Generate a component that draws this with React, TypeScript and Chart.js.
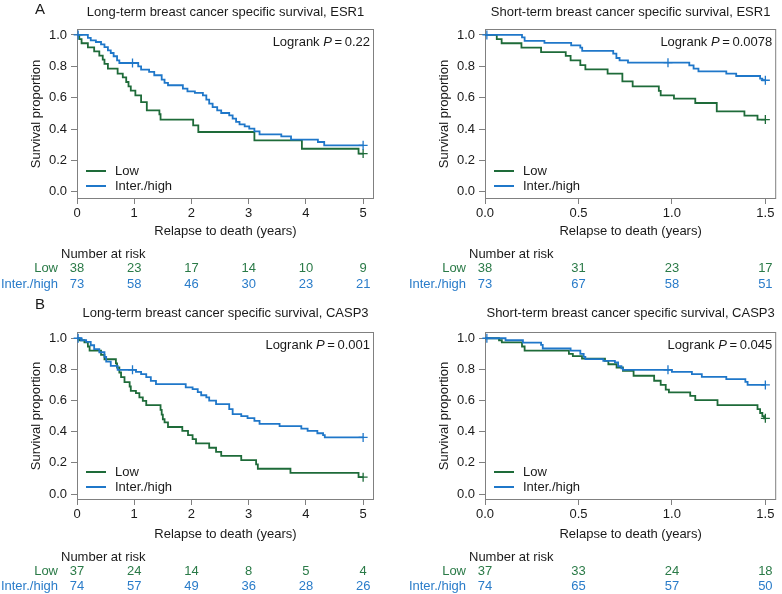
import React, { useEffect, useRef } from 'react';
import { Chart, registerables } from 'chart.js';

Chart.register(...registerables);

const FONT = '"Liberation Sans", Arial, Helvetica, sans-serif';
const GREEN = '#1e6b39';
const GREEN_TXT = '#2a7a47';
const BLUE = '#1f77c9';
const BLUE_TXT = '#2a7cc9';
const FRAME = '#808080';
const TXT = '#1a1a1a';

const groupLabels = ['Low', 'Inter./high'];
const yTickValues = [0, 0.2, 0.4, 0.6, 0.8, 1.0];
const yTickLabels = ['0.0', '0.2', '0.4', '0.6', '0.8', '1.0'];
const xTicksLong = [0, 1, 2, 3, 4, 5];
const xTickLabelsLong = ['0', '1', '2', '3', '4', '5'];
const xTicksShort = [0, 0.5, 1.0, 1.5];
const xTickLabelsShort = ['0.0', '0.5', '1.0', '1.5'];

// ---------- ESR1, long-term ----------
const esrLongLowT = [0, 0.04, 0.08, 0.19, 0.30, 0.39, 0.45, 0.48, 0.54, 0.71, 0.80, 0.86, 0.90, 0.94, 1.02, 1.12, 1.22, 1.44, 1.46, 2.03, 2.12, 3.10, 3.93, 4.92, 5.0];
const esrLongLowS = [1, 0.974, 0.947, 0.921, 0.895, 0.868, 0.842, 0.816, 0.785, 0.753, 0.730, 0.700, 0.672, 0.645, 0.615, 0.572, 0.519, 0.494, 0.460, 0.423, 0.381, 0.328, 0.274, 0.243, 0.243];
const esrLongLowCensT = [5.0];
const esrLongLowCensS = [0.243];
const esrLongHiT = [0, 0.19, 0.24, 0.33, 0.42, 0.48, 0.54, 0.59, 0.64, 0.70, 0.74, 1.07, 1.12, 1.26, 1.35, 1.48, 1.53, 1.59, 1.85, 1.93, 2.06, 2.20, 2.26, 2.31, 2.37, 2.45, 2.52, 2.66, 2.72, 2.78, 2.84, 2.93, 3.01, 3.10, 3.19, 3.57, 3.74, 4.21, 4.32, 5.0];
const esrLongHiS = [1, 0.981, 0.966, 0.955, 0.940, 0.923, 0.902, 0.885, 0.864, 0.838, 0.821, 0.800, 0.779, 0.764, 0.743, 0.715, 0.694, 0.679, 0.657, 0.640, 0.630, 0.615, 0.587, 0.562, 0.540, 0.519, 0.502, 0.487, 0.466, 0.445, 0.430, 0.417, 0.402, 0.385, 0.366, 0.353, 0.332, 0.317, 0.296, 0.296];
const esrLongHiCensT = [0.02, 0.97, 5.0];
const esrLongHiCensS = [1, 0.821, 0.296];
const esrLongRiskLow = [38, 23, 17, 14, 10, 9];
const esrLongRiskHi = [73, 58, 46, 30, 23, 21];

// ---------- ESR1, short-term ----------
const esrShortLowT = [0, 0.063, 0.089, 0.195, 0.30, 0.432, 0.458, 0.51, 0.537, 0.656, 0.735, 0.79, 0.93, 0.94, 1.011, 1.125, 1.24, 1.388, 1.458, 1.5];
const esrShortLowS = [1, 0.974, 0.947, 0.919, 0.891, 0.866, 0.838, 0.808, 0.781, 0.753, 0.704, 0.672, 0.643, 0.615, 0.594, 0.566, 0.513, 0.485, 0.460, 0.460];
const esrShortLowCensT = [1.5];
const esrShortLowCensS = [0.46];
const esrShortHiT = [0, 0.198, 0.212, 0.318, 0.461, 0.51, 0.52, 0.686, 0.703, 0.72, 0.765, 1.093, 1.116, 1.142, 1.291, 1.344, 1.472, 1.484, 1.5];
const esrShortHiS = [1, 0.985, 0.962, 0.949, 0.934, 0.919, 0.898, 0.881, 0.853, 0.838, 0.823, 0.806, 0.785, 0.768, 0.753, 0.738, 0.721, 0.711, 0.711];
const esrShortHiCensT = [0.01, 0.979, 1.5];
const esrShortHiCensS = [1, 0.823, 0.711];
const esrShortRiskLow = [38, 31, 23, 17];
const esrShortRiskHi = [73, 67, 58, 51];

// ---------- CASP3, long-term ----------
const caspLongLowT = [0, 0.04, 0.13, 0.19, 0.22, 0.42, 0.48, 0.68, 0.70, 0.74, 0.77, 0.83, 0.92, 0.94, 1.03, 1.09, 1.15, 1.21, 1.46, 1.48, 1.50, 1.53, 1.59, 1.84, 1.94, 2.02, 2.08, 2.31, 2.43, 2.52, 2.87, 3.13, 3.16, 3.73, 4.92, 5.0];
const caspLongLowS = [1, 0.987, 0.973, 0.947, 0.92, 0.893, 0.865, 0.838, 0.812, 0.78, 0.75, 0.718, 0.69, 0.662, 0.647, 0.62, 0.598, 0.57, 0.54, 0.51, 0.48, 0.46, 0.43, 0.405, 0.378, 0.352, 0.325, 0.297, 0.27, 0.245, 0.218, 0.19, 0.162, 0.135, 0.108, 0.108];
const caspLongLowCensT = [5.0];
const caspLongLowCensS = [0.108];
const caspLongHiT = [0, 0.07, 0.16, 0.24, 0.30, 0.39, 0.48, 0.51, 0.59, 0.71, 1.03, 1.12, 1.21, 1.29, 1.38, 1.90, 2.02, 2.11, 2.17, 2.26, 2.31, 2.43, 2.66, 2.72, 2.87, 2.98, 3.10, 3.19, 3.54, 3.92, 4.03, 4.20, 4.30, 4.33, 5.0];
const caspLongHiS = [1, 0.987, 0.976, 0.955, 0.93, 0.91, 0.88, 0.85, 0.823, 0.797, 0.784, 0.77, 0.75, 0.726, 0.705, 0.684, 0.673, 0.654, 0.634, 0.62, 0.60, 0.577, 0.545, 0.513, 0.50, 0.487, 0.47, 0.45, 0.436, 0.42, 0.405, 0.39, 0.378, 0.363, 0.363];
const caspLongHiCensT = [0.02, 0.97, 5.0];
const caspLongHiCensS = [1, 0.797, 0.363];
const caspLongRiskLow = [37, 24, 14, 8, 5, 4];
const caspLongRiskHi = [74, 57, 49, 36, 28, 26];

// ---------- CASP3, short-term ----------
const caspShortLowT = [0, 0.075, 0.09, 0.198, 0.212, 0.449, 0.47, 0.519, 0.642, 0.66, 0.704, 0.738, 0.795, 0.905, 0.94, 0.967, 0.984, 1.098, 1.125, 1.244, 1.458, 1.472, 1.484, 1.493, 1.5];
const caspShortLowS = [1, 0.987, 0.973, 0.947, 0.92, 0.90, 0.885, 0.869, 0.855, 0.833, 0.812, 0.79, 0.759, 0.727, 0.70, 0.67, 0.652, 0.63, 0.603, 0.57, 0.545, 0.52, 0.50, 0.486, 0.486];
const caspShortLowCensT = [1.5];
const caspShortLowCensS = [0.486];
const caspShortHiT = [0, 0.11, 0.203, 0.30, 0.309, 0.458, 0.51, 0.528, 0.537, 0.633, 0.695, 0.712, 0.73, 0.738, 1.0, 1.107, 1.16, 1.291, 1.393, 1.405, 1.5];
const caspShortHiS = [1, 0.987, 0.972, 0.957, 0.934, 0.92, 0.90, 0.88, 0.866, 0.855, 0.845, 0.82, 0.806, 0.797, 0.784, 0.769, 0.752, 0.737, 0.72, 0.70, 0.70];
const caspShortHiCensT = [0.01, 0.979, 1.5];
const caspShortHiCensS = [1, 0.797, 0.70];
const caspShortRiskLow = [37, 33, 24, 18];
const caspShortRiskHi = [74, 65, 57, 50];

type Panel = {
  letter: string;
  title: string;
  pValue: string;
  lowT: number[]; lowS: number[]; lowCT: number[]; lowCS: number[];
  hiT: number[]; hiS: number[]; hiCT: number[]; hiCS: number[];
  riskT: number[]; riskLow: number[]; riskHi: number[];
  xTicks: number[]; xTickLabels: string[];
  xMax: number; yMin: number; yMax: number;
  box: { x: number; y: number; w: number; h: number };
  area: { left: number; right: number; top: number; bottom: number };
  ty: { letter: number; title: number; xTitle: number; nar: number; low: number; hi: number };
};

const topTY = { letter: 10, title: 12, xTitle: 231, nar: 254, low: 268, hi: 284 };
const botTY = { letter: 8, title: 16, xTitle: 237, nar: 260, low: 274, hi: 289 };

const panels: Panel[] = [
  {
    letter: 'A', title: 'Long-term breast cancer specific survival, ESR1', pValue: '0.22',
    lowT: esrLongLowT, lowS: esrLongLowS, lowCT: esrLongLowCensT, lowCS: esrLongLowCensS,
    hiT: esrLongHiT, hiS: esrLongHiS, hiCT: esrLongHiCensT, hiCS: esrLongHiCensS,
    riskT: xTicksLong, riskLow: esrLongRiskLow, riskHi: esrLongRiskHi,
    xTicks: xTicksLong, xTickLabels: xTickLabelsLong,
    xMax: 5.19, yMin: -0.0466, yMax: 1.038,
    box: { x: 0, y: 0, w: 391, h: 297 },
    area: { left: 77, right: 374, top: 29, bottom: 199 },
    ty: topTY,
  },
  {
    letter: '', title: 'Short-term breast cancer specific survival, ESR1', pValue: '0.0078',
    lowT: esrShortLowT, lowS: esrShortLowS, lowCT: esrShortLowCensT, lowCS: esrShortLowCensS,
    hiT: esrShortHiT, hiS: esrShortHiS, hiCT: esrShortHiCensT, hiCS: esrShortHiCensS,
    riskT: xTicksShort, riskLow: esrShortRiskLow, riskHi: esrShortRiskHi,
    xTicks: xTicksShort, xTickLabels: xTickLabelsShort,
    xMax: 1.558, yMin: -0.0466, yMax: 1.038,
    box: { x: 391, y: 0, w: 391, h: 297 },
    area: { left: 94, right: 390, top: 29, bottom: 199 },
    ty: topTY,
  },
  {
    letter: 'B', title: 'Long-term breast cancer specific survival, CASP3', pValue: '0.001',
    lowT: caspLongLowT, lowS: caspLongLowS, lowCT: caspLongLowCensT, lowCS: caspLongLowCensS,
    hiT: caspLongHiT, hiS: caspLongHiS, hiCT: caspLongHiCensT, hiCS: caspLongHiCensS,
    riskT: xTicksLong, riskLow: caspLongRiskLow, riskHi: caspLongRiskHi,
    xTicks: xTicksLong, xTickLabels: xTickLabelsLong,
    xMax: 5.19, yMin: -0.0385, yMax: 1.04,
    box: { x: 0, y: 297, w: 391, h: 297 },
    area: { left: 77, right: 374, top: 35, bottom: 203 },
    ty: botTY,
  },
  {
    letter: '', title: 'Short-term breast cancer specific survival, CASP3', pValue: '0.045',
    lowT: caspShortLowT, lowS: caspShortLowS, lowCT: caspShortLowCensT, lowCS: caspShortLowCensS,
    hiT: caspShortHiT, hiS: caspShortHiS, hiCT: caspShortHiCensT, hiCS: caspShortHiCensS,
    riskT: xTicksShort, riskLow: caspShortRiskLow, riskHi: caspShortRiskHi,
    xTicks: xTicksShort, xTickLabels: xTickLabelsShort,
    xMax: 1.558, yMin: -0.0385, yMax: 1.04,
    box: { x: 391, y: 297, w: 391, h: 297 },
    area: { left: 94, right: 390, top: 35, bottom: 203 },
    ty: botTY,
  },
];

const pts = (t: number[], s: number[]) => t.map((x, i) => ({ x, y: s[i] }));
const f = (size: number, style = '') => `${style} ${size}px ${FONT}`.trim();

function decorPlugin(p: Panel) {
  return {
    id: 'decor',
    beforeDatasetsDraw(chart: any) {
      const { ctx, chartArea: a } = chart;
      ctx.save();
      ctx.strokeStyle = FRAME;
      ctx.lineWidth = 1;
      ctx.strokeRect(a.left + 0.5, a.top + 0.5, a.right - a.left - 1, a.bottom - a.top - 1);
      ctx.restore();
    },
    afterDraw(chart: any) {
      const { ctx, chartArea: a } = chart;
      const xs = chart.scales.x;
      const cx = (a.left + a.right) / 2;
      ctx.save();
      ctx.textBaseline = 'middle';
      ctx.fillStyle = TXT;
      // panel letter
      if (p.letter) {
        ctx.font = f(15);
        ctx.textAlign = 'center';
        ctx.fillText(p.letter, 40, p.ty.letter);
      }
      // title
      ctx.font = f(13);
      ctx.textAlign = 'center';
      ctx.fillText(p.title, cx, p.ty.title);
      // y axis title
      ctx.save();
      ctx.translate(a.left - 41, (a.top + a.bottom) / 2);
      ctx.rotate(-Math.PI / 2);
      ctx.fillText('Survival proportion', 0, 0);
      ctx.restore();
      // x axis title
      ctx.fillText('Relapse to death (years)', cx, p.ty.xTitle);
      // logrank
      const parts = [
        { s: 'Logrank ', font: f(13) },
        { s: 'P', font: f(13, 'italic') },
        { s: '\u2009=\u2009' + p.pValue, font: f(13) },
      ];
      let total = 0;
      parts.forEach((q) => { ctx.font = q.font; total += ctx.measureText(q.s).width; });
      let x0 = a.right - 4 - total;
      ctx.textAlign = 'left';
      parts.forEach((q) => { ctx.font = q.font; ctx.fillText(q.s, x0, a.top + 13); x0 += ctx.measureText(q.s).width; });
      // legend
      const legend = [
        { label: groupLabels[0], color: GREEN, y: a.bottom - 28 },
        { label: groupLabels[1], color: BLUE, y: a.bottom - 13 },
      ];
      ctx.font = f(13);
      legend.forEach((l) => {
        ctx.strokeStyle = l.color;
        ctx.lineWidth = 2;
        ctx.beginPath();
        ctx.moveTo(a.left + 9, l.y);
        ctx.lineTo(a.left + 29, l.y);
        ctx.stroke();
        ctx.fillStyle = TXT;
        ctx.fillText(l.label, a.left + 38, l.y);
      });
      // risk table
      ctx.fillStyle = TXT;
      ctx.textAlign = 'left';
      ctx.fillText('Number at risk', a.left - 16, p.ty.nar);
      const rows = [
        { label: groupLabels[0], vals: p.riskLow, color: GREEN_TXT, y: p.ty.low },
        { label: groupLabels[1], vals: p.riskHi, color: BLUE_TXT, y: p.ty.hi },
      ];
      rows.forEach((r) => {
        ctx.fillStyle = r.color;
        ctx.textAlign = 'right';
        ctx.fillText(r.label, a.left - 19, r.y);
        ctx.textAlign = 'center';
        r.vals.forEach((v, i) => {
          ctx.fillText(String(v), xs.getPixelForValue(p.riskT[i]), r.y);
        });
      });
      ctx.restore();
    },
  };
}

function buildConfig(p: Panel): any {
  const xAxisH = 25;
  return {
    type: 'line',
    data: {
      datasets: [
        {
          label: groupLabels[1], data: pts(p.hiT, p.hiS), stepped: 'before',
          borderColor: BLUE, borderWidth: 1.8, pointRadius: 0, fill: false, order: 0,
        },
        {
          label: groupLabels[0], data: pts(p.lowT, p.lowS), stepped: 'before',
          borderColor: GREEN, borderWidth: 1.8, pointRadius: 0, fill: false, order: 1,
        },
        {
          type: 'scatter', label: 'cens-hi', data: pts(p.hiCT, p.hiCS), showLine: false,
          pointStyle: 'cross', pointRadius: 4.5, borderColor: BLUE, borderWidth: 1.3, order: 0, clip: false,
        },
        {
          type: 'scatter', label: 'cens-low', data: pts(p.lowCT, p.lowCS), showLine: false,
          pointStyle: 'cross', pointRadius: 4.5, borderColor: GREEN, borderWidth: 1.3, order: 1, clip: false,
        },
      ],
    },
    options: {
      animation: false,
      responsive: false,
      maintainAspectRatio: false,
      events: [],
      layout: {
        padding: {
          left: 0,
          top: p.area.top,
          right: p.box.w - p.area.right,
          bottom: p.box.h - p.area.bottom - xAxisH,
        },
      },
      plugins: { legend: { display: false }, tooltip: { enabled: false }, title: { display: false } },
      scales: {
        x: {
          type: 'linear', min: 0, max: p.xMax,
          border: { display: false },
          grid: { display: true, drawOnChartArea: false, drawTicks: true, tickLength: 5, color: FRAME },
          ticks: {
            font: { family: FONT, size: 13 }, color: TXT, padding: 2, maxRotation: 0,
            callback: (v: number) => {
              const i = p.xTicks.findIndex((t) => Math.abs(t - v) < 1e-9);
              return i >= 0 ? p.xTickLabels[i] : '';
            },
          },
          afterBuildTicks: (s: any) => { s.ticks = p.xTicks.map((v) => ({ value: v })); },
          afterFit: (s: any) => { s.height = xAxisH; s.paddingLeft = 0; s.paddingRight = 0; },
        },
        y: {
          type: 'linear', min: p.yMin, max: p.yMax,
          border: { display: false },
          grid: { display: true, drawOnChartArea: false, drawTicks: true, tickLength: 6, color: FRAME },
          ticks: {
            font: { family: FONT, size: 13 }, color: TXT, padding: 4,
            callback: (v: number) => {
              const i = yTickValues.findIndex((t) => Math.abs(t - v) < 1e-9);
              return i >= 0 ? yTickLabels[i] : '';
            },
          },
          afterBuildTicks: (s: any) => { s.ticks = yTickValues.map((v) => ({ value: v })); },
          afterFit: (s: any) => { s.width = p.area.left; s.paddingTop = 0; s.paddingBottom = 0; },
        },
      },
    },
    plugins: [decorPlugin(p)],
  };
}

function KMPanel({ p }: { p: Panel }) {
  const ref = useRef<HTMLCanvasElement>(null);
  useEffect(() => {
    const chart = new Chart(ref.current as HTMLCanvasElement, buildConfig(p));
    return () => chart.destroy();
  }, [p]);
  return (
    <div style={{ position: 'absolute', left: p.box.x, top: p.box.y, width: p.box.w, height: p.box.h }}>
      <canvas ref={ref} width={p.box.w} height={p.box.h} style={{ width: p.box.w, height: p.box.h, display: 'block' }} />
    </div>
  );
}

export default function App() {
  return (
    <div style={{ position: 'absolute', left: 0, top: 0, width: 782, height: 594, background: '#ffffff', overflow: 'hidden' }}>
      {panels.map((p, i) => (
        <KMPanel key={i} p={p} />
      ))}
    </div>
  );
}
